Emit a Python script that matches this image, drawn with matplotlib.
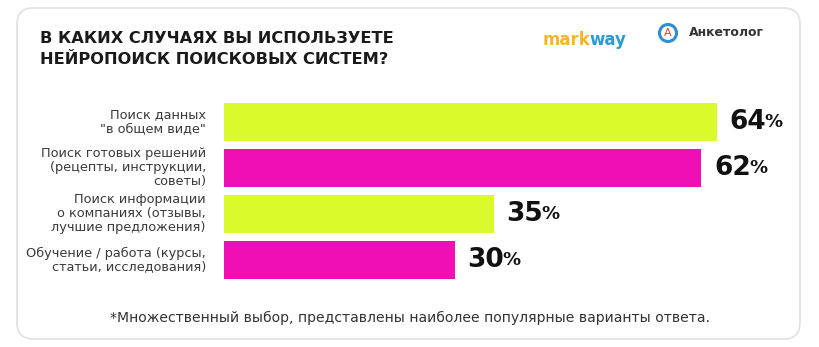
import matplotlib.pyplot as plt
from matplotlib.patches import FancyBboxPatch, Ellipse

categories = ['Поиск данных\n"в общем виде"',
              'Поиск готовых решений\n(рецепты, инструкции,\nсоветы)',
              'Поиск информации\nо компаниях (отзывы,\nлучшие предложения)',
              'Обучение / работа (курсы,\nстатьи, исследования)']
values = [64, 62, 35, 30]
colors = ['#DBFA2C', '#F00EB5', '#DBFA2C', '#F00EB5']

W, H = 819, 347
fig = plt.figure(figsize=(W / 100, H / 100), dpi=100)
fig.patch.set_facecolor('white')

# card background
card = FancyBboxPatch((17 / W, 8 / H), 783 / W, 331 / H,
                      boxstyle='round,pad=0,rounding_size=0.02',
                      transform=fig.transFigure, facecolor='white',
                      edgecolor='#e2e2e2', linewidth=1.3,
                      mutation_aspect=W / H, zorder=-5)
fig.patches.append(card)

# title
fig.text(40 / W, 1 - 49 / H, 'В КАКИХ СЛУЧАЯХ ВЫ ИСПОЛЬЗУЕТЕ\nНЕЙРОПОИСК ПОИСКОВЫХ СИСТЕМ?',
         fontsize=11.7, fontweight='bold', color='#1a1a1a', ha='left', va='center',
         linespacing=1.55, family='DejaVu Sans')

# logos
t = fig.text(543 / W, 1 - 40 / H, 'mark', fontsize=12, fontweight='bold',
             color='#F3B62A', ha='left', va='center', family='DejaVu Sans')
fig.canvas.draw()
ext = t.get_window_extent()
fig.text(ext.x1 / W - 1 / W, 1 - 40 / H, 'way', fontsize=12, fontweight='bold',
         color='#2B9BD6', ha='left', va='center', family='DejaVu Sans')
fig.patches.append(Ellipse((668 / W, 1 - 33 / H), 17 / W, 17 / H, transform=fig.transFigure,
                           facecolor='white', edgecolor='#2F8FD0', linewidth=2.2))
fig.text(668 / W, 1 - 33.5 / H, 'A', fontsize=8, color='#E8452C', ha='center',
         va='center', family='DejaVu Sans')
fig.text(689 / W, 1 - 33 / H, 'Анкетолог', fontsize=9, fontweight='bold',
         color='#333333', ha='left', va='center', family='DejaVu Sans')

# bars
scale = 7.7  # px per percent
ax_left, ax_top, ax_h = 224, 99, 184
ax_w = 576
ax = fig.add_axes([ax_left / W, 1 - (ax_top + ax_h) / H, ax_w / W, ax_h / H])
ax.set_xlim(0, ax_w / scale)
ax.set_ylim(len(values) - 0.5, -0.5)
ypos = list(range(len(values)))
ax.barh(ypos, values, height=0.82, color=colors)
ax.axis('off')

for y, v, c in zip(ypos, values, categories):
    num = ax.annotate(str(v), xy=(v, y), xytext=(9, 0), textcoords='offset points',
                      fontsize=19, fontweight='bold', color='#111111',
                      ha='left', va='center', family='DejaVu Sans')
    ax.annotate('%', xy=(1, 0.14), xycoords=num, xytext=(-1, 0), textcoords='offset points',
                fontsize=13, fontweight='bold', color='#111111', ha='left', va='bottom',
                family='DejaVu Sans')
    ax.annotate(c, xy=(0, y), xytext=(-13, 0), textcoords='offset points',
                fontsize=9.3, color='#3a3a3a', ha='right', va='center',
                linespacing=1.1, family='DejaVu Sans')

fig.text(410 / W, 1 - 318 / H,
         '*Множественный выбор, представлены наиболее популярные варианты ответа.',
         fontsize=10.1, color='#333333', ha='center', va='center', family='DejaVu Sans')

fig.savefig('out.png', dpi=100, facecolor='white')
